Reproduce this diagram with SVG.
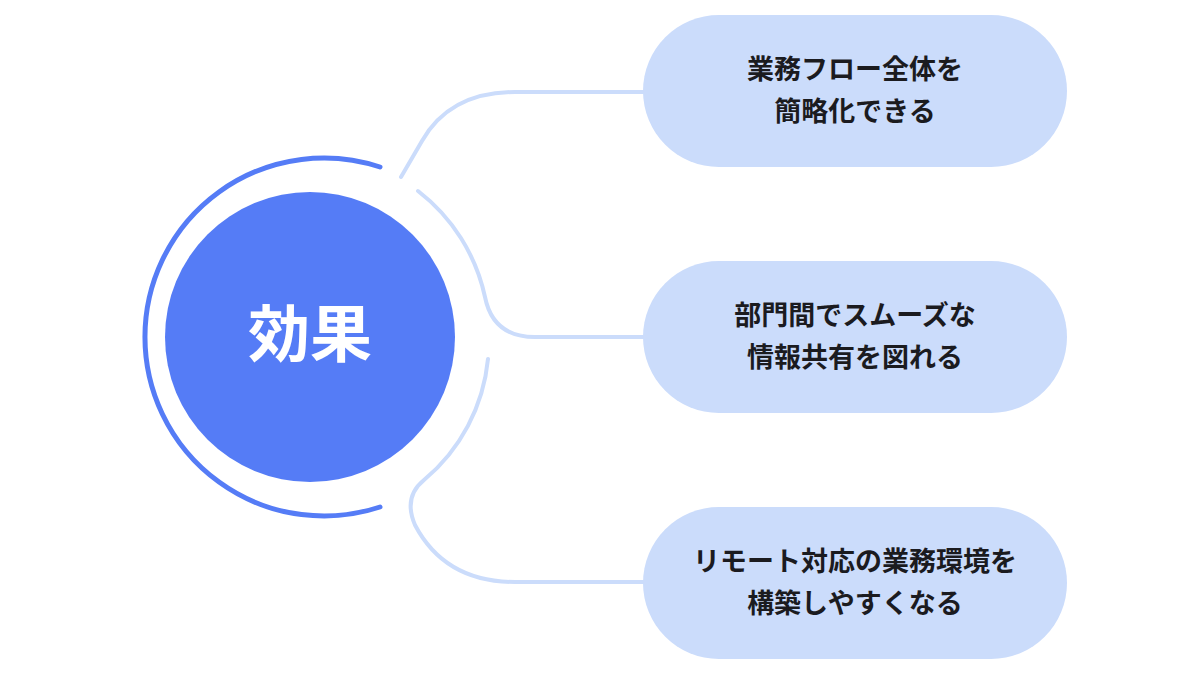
<svg xmlns="http://www.w3.org/2000/svg" width="1200" height="675" viewBox="0 0 1200 675">
<style>
.pill{fill:#cbdcfb}
.t{font-family:"Noto Sans CJK JP",sans-serif;font-weight:700;font-size:27px;fill:#1b1b1f;text-anchor:middle}
.c{fill:none;stroke:#cbdcfb;stroke-width:4;stroke-linecap:round}
</style>
<rect width="1200" height="675" fill="#fff"/>
<g id="connectors">
<path class="c" d="M401,177 L422,141 Q450,92 515,92 L650,92"/>
<path class="c" d="M418,191 A182,182 0 0 1 485,297 Q493,337 535,337 L650,337"/>
<path class="c" d="M488,359 A180,180 0 0 1 424,480 Q403,497 415,525 Q445,582 515,582 L650,582"/>
</g>
<g id="center">
<path d="M380,167 A179,179 0 1 0 380,507" fill="none" stroke="#557cf6" stroke-width="5" stroke-linecap="round"/>
<circle cx="310" cy="337" r="145" fill="#557cf6"/>
<text x="310" y="357" font-family="Noto Sans CJK JP,sans-serif" font-weight="700" font-size="62" fill="#fff" text-anchor="middle">効果</text>
</g>
<g id="n1"><rect class="pill" x="643" y="15" width="424" height="152" rx="76"/>
<text class="t" x="855" y="79">業務フロー全体を</text><text class="t" x="855" y="121">簡略化できる</text></g>
<g id="n2"><rect class="pill" x="643" y="261" width="424" height="152" rx="76"/>
<text class="t" x="855" y="325">部門間でスムーズな</text><text class="t" x="855" y="367">情報共有を図れる</text></g>
<g id="n3"><rect class="pill" x="643" y="507" width="424" height="152" rx="76"/>
<text class="t" x="855" y="571">リモート対応の業務環境を</text><text class="t" x="855" y="613">構築しやすくなる</text></g>
</svg>
